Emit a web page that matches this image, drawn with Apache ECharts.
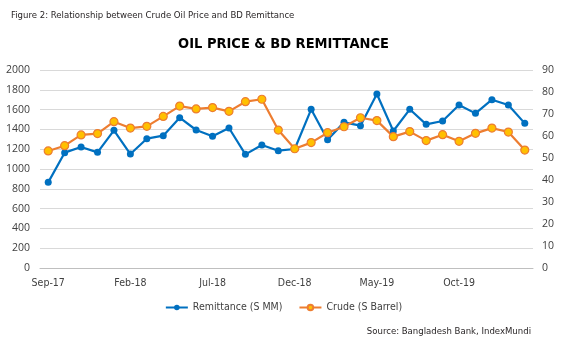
<!DOCTYPE html>
<html><head><meta charset="utf-8">
<script src="https://cdn.jsdelivr.net/npm/echarts@6/dist/echarts.min.js"></script>
<style>html,body{margin:0;padding:0;background:#fff}#c{width:567px;height:344px}</style>
</head><body><div id="c"></div>
<script>
const months = ["Sep-17","Oct-17","Nov-17","Dec-17","Jan-18","Feb-18","Mar-18","Apr-18","May-18","Jun-18","Jul-18","Aug-18","Sep-18","Oct-18","Nov-18","Dec-18","Jan-19","Feb-19","Mar-19","Apr-19","May-19","Jun-19","Jul-19","Aug-19","Sep-19","Oct-19","Nov-19","Dec-19","Jan-20","Feb-20"];
const remittance = [865,1165,1222,1168,1391,1151,1306,1337,1518,1394,1330,1414,1148,1242,1185,1202,1603,1296,1471,1438,1758,1384,1603,1451,1485,1646,1562,1700,1646,1461];
const crude = [53.2,55.6,60.5,61.1,66.5,63.6,64.4,68.9,73.6,72.3,72.9,71.2,75.6,76.7,62.7,54.2,57.0,61.5,64.2,68.3,67.0,59.7,62.0,57.9,60.6,57.6,61.2,63.6,61.8,53.6];
const leftTicks = [0,2000,200];
const rightTicks = [0,90,10];
const cond = '"DejaVu Sans Condensed","Liberation Sans Narrow",sans-serif';
const chart = echarts.init(document.getElementById('c'));
chart.setOption({
  animation:false,
  textStyle:{fontFamily:'"Open Sans","Noto Sans",sans-serif'},
  title:[
    {text:'Figure 2: Relationship between Crude Oil Price and BD Remittance',left:6,top:6,textStyle:{fontFamily:cond,fontSize:9.5,fontWeight:'normal',color:'#231f20'}},
    {text:'OIL PRICE & BD REMITTANCE',left:'center',top:32,textStyle:{fontFamily:cond,fontSize:14.5,fontWeight:'bold',color:'#000'}},
    {text:'Source: Bangladesh Bank, IndexMundi',right:31,top:322,textStyle:{fontFamily:cond,fontSize:9.5,fontWeight:'normal',color:'#231f20'}}
  ],
  grid:{left:40,right:34,top:70,bottom:76},
  legend:{bottom:26,left:'center',itemWidth:22,itemHeight:7,itemGap:16,textStyle:{fontFamily:cond,fontSize:10.5,color:'#404040'},
    data:['Remittance (S MM)','Crude (S Barrel)']},
  xAxis:{type:'category',data:months,boundaryGap:true,
    axisLine:{lineStyle:{color:'#bfbfbf'}},
    axisTick:{interval:4,lineStyle:{color:'#bfbfbf'},length:4},
    axisLabel:{interval:4,color:'#404040',fontFamily:cond,fontSize:10.5,margin:10}},
  yAxis:[
    {type:'value',min:leftTicks[0],max:leftTicks[1],interval:leftTicks[2],
      axisLine:{show:false},axisTick:{show:false},
      axisLabel:{color:'#404040',fontSize:10.5,margin:10,formatter:v=>String(v)},
      splitLine:{lineStyle:{color:'#d9d9d9',width:1}}},
    {type:'value',min:rightTicks[0],max:rightTicks[1],interval:rightTicks[2],
      axisLine:{show:false},axisTick:{show:false},
      axisLabel:{color:'#404040',fontSize:10.5,margin:9,formatter:v=>String(v)},
      splitLine:{show:false}}
  ],
  series:[
    {name:'Remittance (S MM)',type:'line',yAxisIndex:0,data:remittance,
      symbol:'circle',symbolSize:7,
      lineStyle:{color:'#0070c0',width:2.2},
      itemStyle:{color:'#0070c0'}},
    {name:'Crude (S Barrel)',type:'line',yAxisIndex:1,data:crude,
      symbol:'circle',symbolSize:8,
      lineStyle:{color:'#ed7d31',width:2.2},
      itemStyle:{color:'#ffc000',borderColor:'#ed7d31',borderWidth:1.2}}
  ]
});
</script></body></html>
